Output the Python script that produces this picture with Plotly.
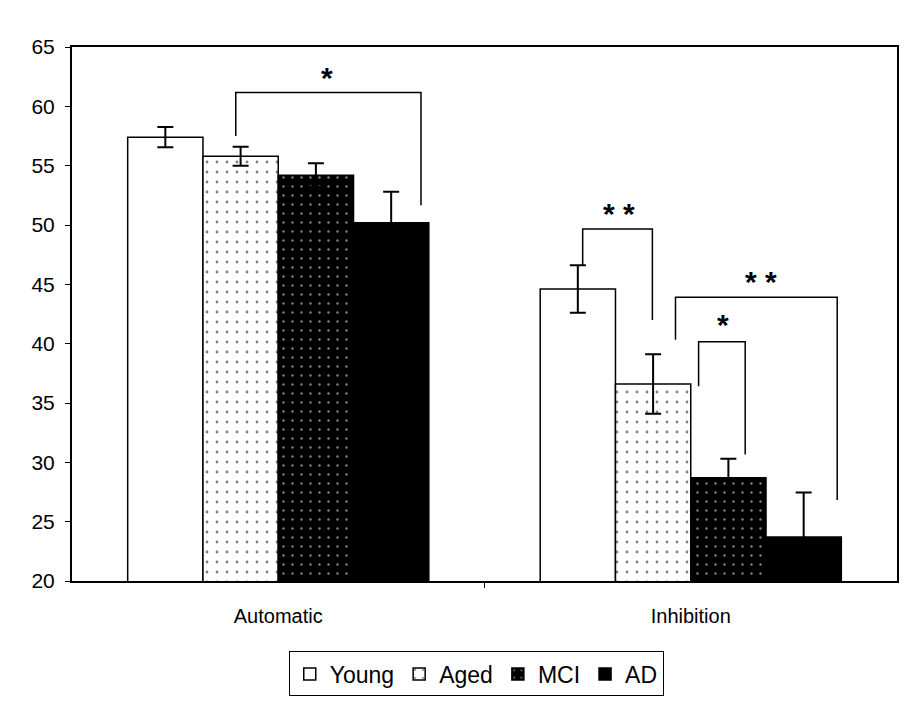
import plotly.graph_objects as go

categories = ["Automatic", "Inhibition"]
groups = ["Young", "Aged", "MCI", "AD"]
values = {
    "Young": [57.4, 44.6],
    "Aged": [55.8, 36.6],
    "MCI": [54.2, 28.7],
    "AD": [50.2, 23.7],
}
errors = {
    "Young": [0.85, 2.0],
    "Aged": [0.8, 2.5],
    "MCI": [1.0, 1.6],
    "AD": [2.6, 3.75],
}
y_ticks = [20, 25, 30, 35, 40, 45, 50, 55, 60, 65]

# significance brackets: (x_left, x_right, y_top, y_left_end, y_right_end, label, label_x, label_y)
brackets = [
    (-0.103, 0.346, 61.17, 57.5, 51.67, "*", 0.119, 62.4),
    (0.738, 0.907, 49.67, 46.58, 42.0, "* *", 0.825, 51.0),
    (0.963, 1.355, 43.92, 40.33, 26.83, "* *", 1.171, 45.2),
    (1.019, 1.132, 40.17, 36.42, 30.67, "*", 1.077, 41.6),
]

styles = {
    "Young": dict(color="white", line=dict(color="black", width=1.5)),
    "Aged": dict(color="white", line=dict(color="black", width=1.5),
                 pattern=dict(shape=".", bgcolor="white", fgcolor="black", size=10, solidity=0.06)),
    "MCI": dict(color="black", line=dict(color="black", width=1.5),
                pattern=dict(shape=".", bgcolor="black", fgcolor="white", size=9, solidity=0.06)),
    "AD": dict(color="black", line=dict(color="black", width=1.5)),
}

xpos = list(range(len(categories)))
fig = go.Figure()
for g in groups:
    fig.add_trace(go.Bar(
        name=g, x=xpos, y=values[g],
        marker=styles[g],
        error_y=dict(type="data", array=errors[g], color="black", thickness=2, width=8),
    ))

for (xl, xr, yt, yl, yr, lab, lx, ly) in brackets:
    fig.add_shape(type="path",
                  path=f"M {xl} {yl} L {xl} {yt} L {xr} {yt} L {xr} {yr}",
                  xref="x", yref="y", line=dict(color="black", width=1.5))
    fig.add_annotation(x=lx, y=ly, xref="x", yref="y", text=f"<b>{lab}</b>", showarrow=False,
                       font=dict(family="Liberation Sans", size=30, color="black"),
                       yanchor="middle")

fig.update_layout(
    width=906, height=703,
    margin=dict(l=72, r=7, t=47, b=117),
    paper_bgcolor="white", plot_bgcolor="white",
    barmode="group", bargap=0.27, bargroupgap=0,
    font=dict(family="Liberation Sans", size=21, color="black"),
    showlegend=True,
    legend=dict(orientation="h", x=0.49, xanchor="center", y=-0.132, yanchor="top",
                bordercolor="black", borderwidth=1,
                font=dict(family="Liberation Sans Narrow, Liberation Sans", size=23),
                itemwidth=30, traceorder="normal"),
)
fig.update_xaxes(
    range=[-0.5, 1.5], tickvals=xpos, ticktext=categories, ticks="",
    showline=True, linecolor="black", linewidth=2, mirror=True,
    showgrid=False, zeroline=False, ticklabelstandoff=16,
    minor=dict(tickvals=[0.5], ticks="outside", ticklen=5, tickcolor="black"),
    tickfont=dict(size=20),
)
fig.update_yaxes(
    range=[20, 65], tickvals=y_ticks, ticks="outside", ticklen=5, tickcolor="black",
    showline=True, linecolor="black", linewidth=2, mirror=True,
    showgrid=False, zeroline=False, ticklabelstandoff=6,
    tickfont=dict(size=21),
)

fig.write_html("out.html")
